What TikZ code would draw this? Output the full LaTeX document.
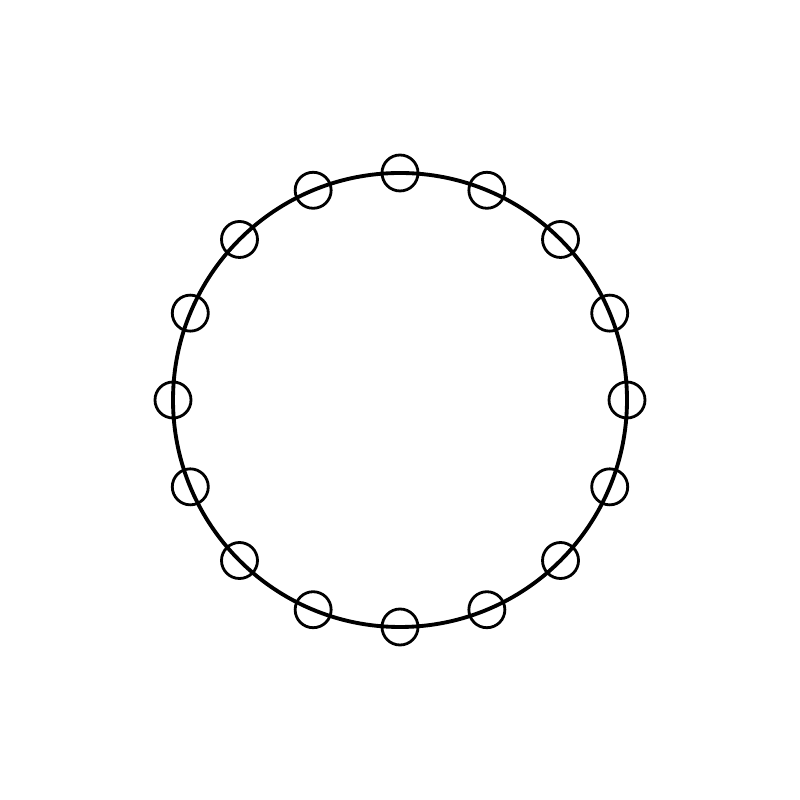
\documentclass[tikz,border=0pt]{standalone}
\begin{document}
\begin{tikzpicture}[ring/.style={line width=1.1pt},bead/.style={line width=0.8pt}]
 \useasboundingbox (0,0) rectangle (8,8);
 \draw[ring] (4,4) circle (2.27);
 \foreach \k in {0,...,15}
  \draw[bead] ({4+2.27*cos(22.5*\k)},{4+2.27*sin(22.5*\k)}) circle (0.18);
\end{tikzpicture}
\end{document}
